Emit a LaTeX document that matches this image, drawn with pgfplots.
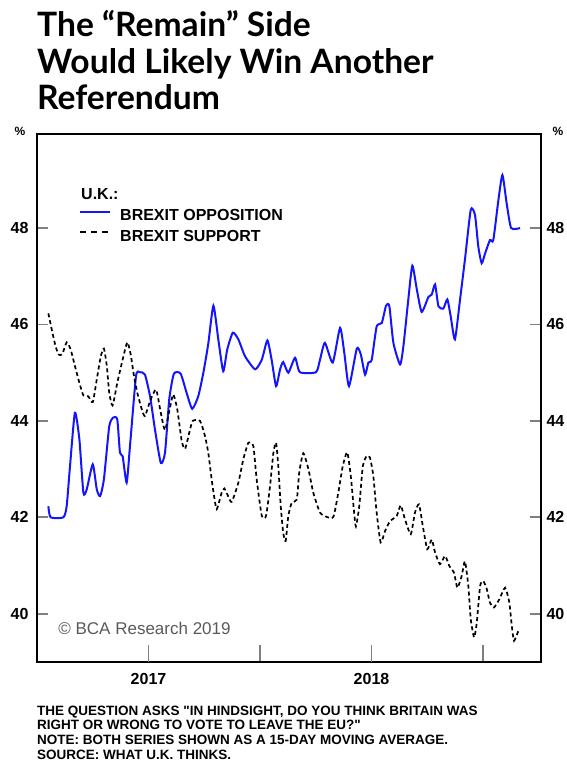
\documentclass[border=0pt]{standalone}
\usepackage{fontspec}
\setmainfont{Liberation Sans}
\newfontfamily\titlefont{Lato}
\newfontfamily\notefont{Liberation Sans}[Ligatures=TeXOff]
\usepackage{pgfplots}
\pgfplotsset{compat=1.18}
\usepackage{pgfplotstable}

% 15-day moving averages, x in decimal years
\pgfplotstableread{
x y
2017.051 42.23
2017.061 42.00
2017.118 42.00
2017.133 42.23
2017.148 43.06
2017.170 44.17
2017.190 43.62
2017.208 42.51
2017.223 42.58
2017.250 43.10
2017.268 42.58
2017.283 42.44
2017.300 42.79
2017.324 43.89
2017.342 44.07
2017.360 44.03
2017.372 43.34
2017.384 43.27
2017.402 42.72
2017.417 43.48
2017.444 44.93
2017.462 45.01
2017.484 44.96
2017.507 44.51
2017.529 43.82
2017.555 43.13
2017.574 43.34
2017.593 44.45
2017.614 44.98
2017.644 44.98
2017.671 44.58
2017.696 44.25
2017.723 44.51
2017.746 45.00
2017.768 45.60
2017.791 46.39
2017.813 45.69
2017.835 45.03
2017.853 45.48
2017.878 45.83
2017.903 45.69
2017.933 45.34
2017.978 45.07
2018.008 45.27
2018.033 45.67
2018.052 45.27
2018.072 44.72
2018.090 45.07
2018.104 45.22
2018.127 45.00
2018.157 45.31
2018.179 45.01
2018.251 45.01
2018.269 45.27
2018.291 45.62
2018.326 45.21
2018.359 45.93
2018.378 45.41
2018.399 44.72
2018.434 45.50
2018.452 45.38
2018.471 44.96
2018.486 45.21
2018.501 45.27
2018.523 45.96
2018.546 46.03
2018.565 46.39
2018.580 46.38
2018.598 45.62
2018.628 45.17
2018.643 45.55
2018.665 46.52
2018.683 47.22
2018.703 46.73
2018.725 46.26
2018.755 46.57
2018.770 46.62
2018.785 46.83
2018.800 46.38
2018.822 46.33
2018.840 46.52
2018.855 46.17
2018.874 45.69
2018.897 46.52
2018.919 47.35
2018.945 48.38
2018.964 48.27
2018.979 47.61
2018.994 47.27
2019.009 47.47
2019.031 47.75
2019.046 47.75
2019.069 48.58
2019.087 49.10
2019.106 48.51
2019.126 48.00
2019.166 48.00
}\opposition

\pgfplotstableread{
x y
2017.051 46.23
2017.066 45.90
2017.081 45.59
2017.096 45.38
2017.113 45.38
2017.133 45.63
2017.151 45.48
2017.170 45.14
2017.190 44.79
2017.208 44.53
2017.230 44.51
2017.250 44.39
2017.268 44.86
2017.286 45.34
2017.300 45.50
2017.313 45.14
2017.324 44.58
2017.339 44.32
2017.360 44.79
2017.384 45.27
2017.405 45.63
2017.420 45.38
2017.435 44.93
2017.450 44.58
2017.470 44.24
2017.484 44.10
2017.507 44.41
2017.534 44.65
2017.555 44.17
2017.574 43.81
2017.596 44.27
2017.611 44.55
2017.629 44.24
2017.649 43.58
2017.664 43.42
2017.683 43.76
2017.698 44.00
2017.731 44.00
2017.753 43.69
2017.768 43.34
2017.783 42.79
2017.794 42.44
2017.806 42.17
2017.828 42.51
2017.840 42.60
2017.856 42.45
2017.873 42.32
2017.903 42.72
2017.925 43.20
2017.948 43.55
2017.970 43.48
2017.985 42.79
2018.008 42.03
2018.027 42.03
2018.045 42.65
2018.060 43.34
2018.072 43.55
2018.082 43.06
2018.093 42.23
2018.104 41.68
2018.115 41.51
2018.127 42.03
2018.142 42.30
2018.165 42.37
2018.176 42.93
2018.194 43.33
2018.217 43.00
2018.239 42.51
2018.269 42.10
2018.299 42.01
2018.329 42.01
2018.351 42.51
2018.371 43.06
2018.391 43.35
2018.407 42.86
2018.422 42.10
2018.430 41.81
2018.445 42.23
2018.461 43.06
2018.478 43.27
2018.493 43.24
2018.508 42.86
2018.523 42.10
2018.541 41.48
2018.561 41.72
2018.583 41.92
2018.613 42.03
2018.631 42.25
2018.650 41.96
2018.676 41.65
2018.695 42.10
2018.713 42.27
2018.730 41.82
2018.750 41.34
2018.770 41.54
2018.785 41.27
2018.807 41.03
2018.830 41.20
2018.849 40.99
2018.870 40.85
2018.885 40.54
2018.904 40.78
2018.919 41.09
2018.934 40.58
2018.945 39.89
2018.960 39.51
2018.972 39.82
2018.987 40.58
2019.001 40.68
2019.017 40.51
2019.031 40.23
2019.049 40.13
2019.073 40.30
2019.099 40.54
2019.118 40.23
2019.129 39.75
2019.139 39.44
2019.158 39.64
}\support

\definecolor{oppblue}{RGB}{20,20,255}

\begin{document}
\begin{tikzpicture}[x=1pt,y=1pt]
\path[use as bounding box] (0,0) rectangle (566,-762);

% title
\begin{scope}[every node/.style={anchor=base west, inner sep=0pt,
    font=\titlefont\bfseries\fontsize{33.6}{36}\selectfont}]
  \node at (37,-37) {The “Remain” Side};
  \node at (37,-74) {Would Likely Win Another};
  \node at (37,-110) {Referendum};
\end{scope}

% unit markers
\node[font=\bfseries\fontsize{12}{12}\selectfont, inner sep=0pt] at (20,-131) {\%};
\node[font=\bfseries\fontsize{12}{12}\selectfont, inner sep=0pt] at (558,-131) {\%};

\pgfplotsset{
  frame/.style={
    at={(37pt,-662pt)}, anchor=south west,
    scale only axis, width=504pt, height=528pt,
    xmin=2017, xmax=2019.26, ymin=39, ymax=49.95,
    ytick={40,42,44,46,48},
    yticklabels={40,42,44,46,48},
    /pgf/number format/assume math mode=true,
    tick label style={font=\bfseries\fontsize{16}{16}\selectfont},
  }
}

\begin{axis}[frame,
  axis line style={line width=1.8pt},
  tick align=inside,
  ytick pos=both,
  xtick pos=lower,
  ytick style={line width=1.8pt, /pgfplots/major tick length=11pt},
  xtick style={line width=1.8pt, /pgfplots/major tick length=17pt},
  xtick={2018,2019},
  xticklabels={},
  extra x ticks={2017.5,2018.5},
  extra x tick labels={2017,2018},
  extra x tick style={/pgfplots/major tick length=0pt,
    xticklabel style={yshift=-8pt}},
  yticklabel style={xshift=-5pt},
]
\addplot[oppblue, line width=2pt, smooth, tension=0.35] table {\opposition};
\addplot[black, line width=1.7pt, dash pattern=on 4pt off 3pt, smooth, tension=0.35] table {\support};
\node[anchor=base west, inner sep=0pt, text=black!65,
  font=\fontsize{17}{17}\selectfont] at (rel axis cs:0.042,0.0515) {© BCA Research 2019};
\end{axis}

% right-hand scale
\begin{axis}[frame,
  hide x axis,
  axis y line*=right,
  y axis line style={draw=none},
  ytick style={draw=none},
  yticklabel style={xshift=2pt},
]
\end{axis}

% legend
\node[anchor=base west, inner sep=0pt, font=\bfseries\fontsize{16}{16}\selectfont] at (81,-199) {U.K.:};
\draw[oppblue, line width=2pt] (80,-212) -- (110,-212);
\node[anchor=base west, inner sep=0pt, font=\bfseries\fontsize{16}{16}\selectfont] at (120,-220.5) {BREXIT OPPOSITION};
\draw[black, line width=1.7pt, dash pattern=on 6pt off 5pt] (80,-232) -- (110,-232);
\node[anchor=base west, inner sep=0pt, font=\bfseries\fontsize{16}{16}\selectfont] at (120,-241) {BREXIT SUPPORT};

% notes
\begin{scope}[every node/.style={anchor=base west, inner sep=0pt,
    font=\notefont\bfseries\fontsize{13.5}{13.5}\selectfont}]
  \node at (37,-715) {THE QUESTION ASKS "IN HINDSIGHT, DO YOU THINK BRITAIN WAS};
  \node at (37,-729.7) {RIGHT OR WRONG TO VOTE TO LEAVE THE EU?"};
  \node at (37,-744.4) {NOTE: BOTH SERIES SHOWN AS A 15-DAY MOVING AVERAGE.};
  \node at (37,-759) {SOURCE: WHAT U.K. THINKS.};
\end{scope}
\end{tikzpicture}
\end{document}
